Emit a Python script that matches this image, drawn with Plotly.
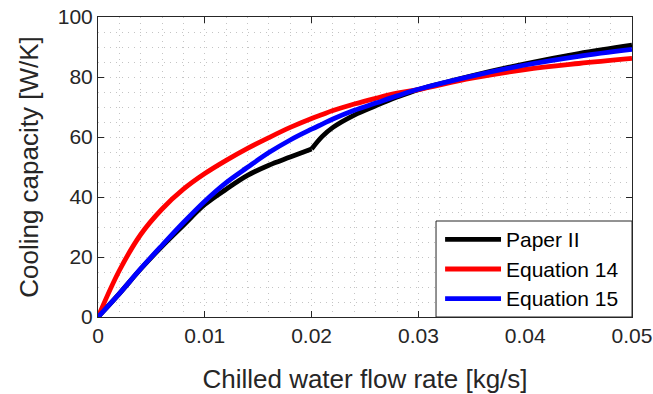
import plotly.graph_objects as go

# Data
flow_rate = [0, 0.002, 0.004, 0.006, 0.008, 0.010, 0.012, 0.014, 0.016, 0.018,
             0.020, 0.021, 0.022, 0.024, 0.026, 0.028, 0.030, 0.035, 0.040, 0.045, 0.050]
paper_ii = [0, 7.8, 16.0, 23.6, 30.6, 37.5, 42.6, 47.2, 50.6, 53.3,
            56.0, 60.2, 63.2, 67.3, 70.4, 73.3, 75.8, 80.4, 84.4, 87.8, 90.6]
equation_14 = [0, 15.5, 27.5, 36.0, 42.6, 47.8, 52.2, 56.2, 59.8, 63.2,
               66.2, 67.5, 68.8, 71.0, 72.9, 74.6, 75.8, 79.6, 82.5, 84.5, 86.2]
equation_15 = [0, 7.8, 16.1, 23.9, 31.5, 38.6, 44.8, 49.9, 54.8, 59.0,
               62.6, 64.3, 66.0, 68.9, 71.3, 73.7, 75.9, 80.3, 84.0, 86.9, 89.2]

series_names = ["Paper II", "Equation 14", "Equation 15"]
series_colors = ["#000000", "#ff0000", "#0000ff"]
x_ticks = [0, 0.01, 0.02, 0.03, 0.04, 0.05]
x_tick_labels = ["0", "0.01", "0.02", "0.03", "0.04", "0.05"]
y_ticks = [0, 20, 40, 60, 80, 100]

FONT = "Liberation Sans, Arial, sans-serif"
TXT = "#262626"
LW = 4.8

fig = go.Figure()
# Paper II has a kink at 0.02 kg/s: draw it as two smooth pieces joined there
k = flow_rate.index(0.020)
fig.add_trace(go.Scatter(x=flow_rate[:k + 1], y=paper_ii[:k + 1], mode="lines",
                         name=series_names[0], legendgroup="p2",
                         line=dict(color=series_colors[0], width=LW, shape="spline"),
                         showlegend=False))
fig.add_trace(go.Scatter(x=flow_rate[k:], y=paper_ii[k:], mode="lines",
                         name=series_names[0], legendgroup="p2",
                         line=dict(color=series_colors[0], width=LW, shape="spline"),
                         showlegend=False))
for name, ys, col in zip(series_names[1:], [equation_14, equation_15], series_colors[1:]):
    fig.add_trace(go.Scatter(x=flow_rate, y=ys, mode="lines", name=name,
                             line=dict(color=col, width=LW, shape="spline"),
                             showlegend=False))

axis_common = dict(
    showline=True, linecolor=TXT, linewidth=1, mirror="ticks",
    ticks="inside", ticklen=6, tickcolor=TXT, tickwidth=1,
    showgrid=True, gridcolor="#c4c4c4", gridwidth=1, griddash="1px,5px",
    zeroline=False, automargin=False,
    tickfont=dict(family=FONT, size=21, color=TXT),
)

fig.update_xaxes(range=[0, 0.05], tickvals=x_ticks, ticktext=x_tick_labels,
                 minor=dict(dtick=0.002, tick0=0, showgrid=True, gridcolor="#c4c4c4",
                            griddash="1px,5px", gridwidth=1),
                 title=dict(text="Chilled water flow rate [kg/s]",
                            font=dict(family=FONT, size=26, color=TXT), standoff=23),
                 **axis_common)
fig.update_yaxes(range=[0, 100], tickvals=y_ticks,
                 minor=dict(dtick=5, tick0=0, showgrid=True, gridcolor="#c4c4c4",
                            griddash="1px,5px", gridwidth=1),
                 title=dict(text="Cooling capacity [W/K]",
                            font=dict(family=FONT, size=26, color=TXT), standoff=11),
                 **axis_common)

# Custom legend box (bottom-right, MATLAB style)
shapes = [dict(type="rect", xref="paper", yref="paper", x0=0.633, x1=1.0, y0=0.0, y1=0.32,
               fillcolor="white", line=dict(color=TXT, width=1), layer="above")]
annotations = []
row_y = [0.259, 0.16, 0.061]
for name, col, yy in zip(series_names, series_colors, row_y):
    shapes.append(dict(type="line", xref="paper", yref="paper", x0=0.650, x1=0.7547,
                       y0=yy, y1=yy, line=dict(color=col, width=LW), layer="above"))
    annotations.append(dict(xref="paper", yref="paper", x=0.760, y=yy, text=name,
                            showarrow=False, xanchor="left", yanchor="middle",
                            font=dict(family=FONT, size=21, color="#000000")))

fig.update_layout(
    width=653, height=394,
    margin=dict(l=98, r=21, t=17, b=77),
    paper_bgcolor="white", plot_bgcolor="white",
    shapes=shapes, annotations=annotations,
    showlegend=False,
)

fig.write_html("out.html")
